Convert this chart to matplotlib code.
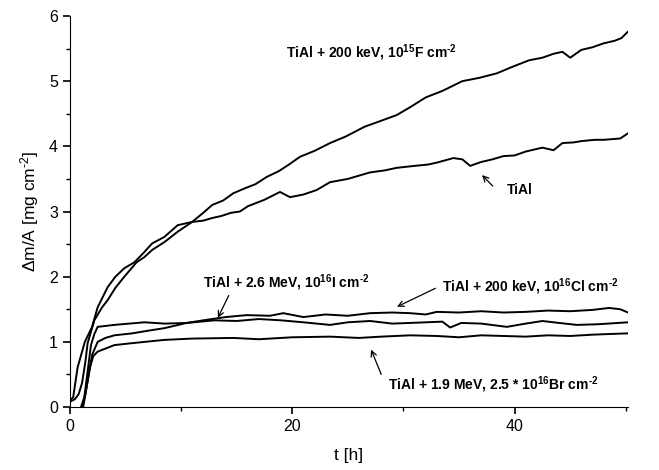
import numpy as np
import matplotlib
matplotlib.use('Agg')
from matplotlib import pyplot as plt

plt.rcParams['font.family'] = ['Liberation Sans', 'DejaVu Sans']
plt.rcParams['mathtext.fontset'] = 'custom'
plt.rcParams['mathtext.rm'] = 'Liberation Sans'
plt.rcParams['mathtext.bf'] = 'Liberation Sans:bold'
plt.rcParams['mathtext.default'] = 'regular'

# TiAl + 200 keV F
t_f = [0, 0.45, 0.8, 1.1, 1.4, 1.6, 2.2, 2.9, 3.4, 4.1, 4.9, 6.0, 6.7, 7.4, 8.5, 9.7, 11.0, 12.0, 12.8,
       13.8, 14.7, 15.8, 16.7, 17.7, 18.8, 19.7, 20.7, 22.0, 23.4, 24.8, 26.5, 27.8, 29.4, 30.6, 32.0,
       33.5, 35.3, 36.8, 38.4, 39.8, 41.3, 42.5, 43.5, 44.3, 45.0, 46.0, 47.0, 48.0, 49.0, 49.6, 50.2]
y_f = [0.08, 0.12, 0.2, 0.37, 0.7, 0.98, 1.33, 1.53, 1.64, 1.83, 2.0, 2.22, 2.3, 2.41, 2.53, 2.69, 2.84, 2.98, 3.10,
       3.17, 3.28, 3.36, 3.42, 3.53, 3.62, 3.72, 3.84, 3.93, 4.05, 4.15, 4.3, 4.38, 4.48, 4.6, 4.75,
       4.85, 5.0, 5.05, 5.12, 5.22, 5.32, 5.36, 5.42, 5.45, 5.36, 5.48, 5.52, 5.58, 5.62, 5.66, 5.76]

# TiAl
t_ti = [0, 0.3, 0.7, 1.35, 2.0, 2.5, 3.4, 4.1, 4.9, 5.8, 6.6, 7.4, 8.5, 9.7, 11.0, 12.0, 12.8, 13.6, 14.5,
        15.3, 16.0, 17.5, 18.9, 19.8, 21.0, 22.2, 23.4, 25.0, 26.0, 27.0, 28.3, 29.4, 31.0, 32.2, 33.0,
        34.5, 35.3, 36.0, 37.0, 38.0, 39.0, 40.0, 41.0, 42.5, 43.5, 44.3, 45.3, 46.0, 47.2, 48.0, 49.5, 50.2]
y_ti = [0.1, 0.15, 0.61, 1.0, 1.23, 1.53, 1.84, 2.0, 2.13, 2.22, 2.36, 2.51, 2.61, 2.79, 2.84, 2.86, 2.9, 2.93, 2.98,
        3.0, 3.08, 3.18, 3.30, 3.22, 3.26, 3.33, 3.45, 3.5, 3.55, 3.6, 3.63, 3.67, 3.7, 3.72, 3.75,
        3.82, 3.80, 3.70, 3.76, 3.8, 3.85, 3.86, 3.92, 3.98, 3.94, 4.05, 4.06, 4.08, 4.1, 4.1, 4.12, 4.2]

# TiAl + 200 keV Cl
t_cl = [1.1, 1.4, 1.7, 2.0, 2.5, 3.2, 4.0, 5.6, 7.0, 8.5, 10.5, 12.0, 14.0, 15.9, 18.0, 19.2, 21.0, 23.0,
        25.0, 27.0, 29.0, 30.6, 32.0, 33.0, 35.0, 37.0, 39.0, 41.0, 43.0, 45.0, 47.0, 48.5, 49.5, 50.2]
y_cl = [0.0, 0.2, 0.5, 0.8, 1.0, 1.06, 1.10, 1.13, 1.17, 1.21, 1.29, 1.33, 1.38, 1.41, 1.40, 1.44, 1.38, 1.42,
        1.40, 1.44, 1.45, 1.44, 1.42, 1.46, 1.45, 1.47, 1.45, 1.46, 1.48, 1.47, 1.49, 1.52, 1.50, 1.45]

# TiAl + 2.6 MeV I
t_i = [1.0, 1.3, 1.6, 1.9, 2.2, 2.5, 4.0, 6.7, 8.5, 10.5, 13.0, 15.0, 17.0, 19.0, 21.0, 23.4, 25.0, 27.0,
       29.0, 30.6, 33.5, 34.2, 35.2, 37.0, 39.3, 41.0, 42.5, 44.0, 45.6, 47.5, 50.2]
y_i = [0.0, 0.15, 0.55, 0.95, 1.12, 1.23, 1.26, 1.30, 1.28, 1.29, 1.33, 1.32, 1.35, 1.33, 1.30, 1.26, 1.30, 1.32,
       1.28, 1.29, 1.31, 1.22, 1.29, 1.28, 1.23, 1.28, 1.32, 1.29, 1.26, 1.27, 1.30]

# TiAl + 1.9 MeV Br
t_br = [1.2, 1.5, 1.8, 2.1, 2.5, 4.0, 5.6, 8.5, 11.0, 14.7, 17.0, 20.0, 23.4, 26.0, 28.0, 30.6, 33.0, 35.0,
        37.0, 39.0, 41.0, 43.0, 45.0, 47.0, 48.5, 50.2]
y_br = [0.0, 0.3, 0.6, 0.78, 0.85, 0.95, 0.98, 1.03, 1.05, 1.06, 1.04, 1.07, 1.08, 1.06, 1.08, 1.10, 1.09, 1.07,
        1.10, 1.09, 1.08, 1.10, 1.09, 1.11, 1.12, 1.13]

fig = plt.figure(figsize=(6.59, 4.70), dpi=100)
ax = fig.add_axes([0.106, 0.134, 0.847, 0.832])

for t, y in [(t_f, y_f), (t_ti, y_ti), (t_cl, y_cl), (t_i, y_i), (t_br, y_br)]:
    ax.plot(t, y, color='black', lw=1.4)

ax.set_xlim(0, 50.2)
ax.set_ylim(0, 6)
ax.set_xticks([0, 20, 40])
ax.set_xticks([10, 30, 50], minor=True)
ax.set_yticks([0, 1, 2, 3, 4, 5, 6])
ax.set_yticks(np.arange(0.5, 6, 1), minor=True)
ax.spines['top'].set_visible(False)
ax.spines['right'].set_visible(False)
ax.tick_params(which='major', direction='out', length=5, width=1.2, labelsize=11.5)
ax.tick_params(which='minor', direction='out', length=3, width=1.0)
ax.set_xlabel('t [h]', fontsize=12.5, labelpad=10)
ax.set_ylabel('\u0394m/A [mg cm$^{\u20102}$]', fontsize=12.5, labelpad=6)

kw = dict(fontsize=10, fontweight='bold')
sup = lambda s: r'$^{\mathbf{' + s + '}}$'
ax.text(19.4, 5.44, 'TiAl + 200 keV, 10' + sup('15') + 'F cm' + sup('\u20102'), va='center', **kw)
ax.text(39.3, 3.33, 'TiAl', va='center', **kw)
ax.text(12.0, 1.90, 'TiAl + 2.6 MeV, 10' + sup('16') + 'I cm' + sup('\u20102'), va='center', **kw)
ax.text(33.5, 1.84, 'TiAl + 200 keV, 10' + sup('16') + 'Cl cm' + sup('\u20102'), va='center', **kw)
ax.text(28.6, 0.34, 'TiAl + 1.9 MeV, 2.5 * 10' + sup('16') + 'Br cm' + sup('\u20102'), va='center', **kw)

ap = dict(arrowstyle='->', color='black', lw=0.9)
ax.annotate('', xy=(36.9, 3.59), xytext=(38.2, 3.36), arrowprops=ap)
ax.annotate('', xy=(13.2, 1.33), xytext=(14.4, 1.75), arrowprops=ap)
ax.annotate('', xy=(29.2, 1.52), xytext=(33.1, 1.84), arrowprops=ap)
ax.annotate('', xy=(27.0, 0.92), xytext=(28.1, 0.46), arrowprops=ap)

fig.savefig('out.png', dpi=100)
